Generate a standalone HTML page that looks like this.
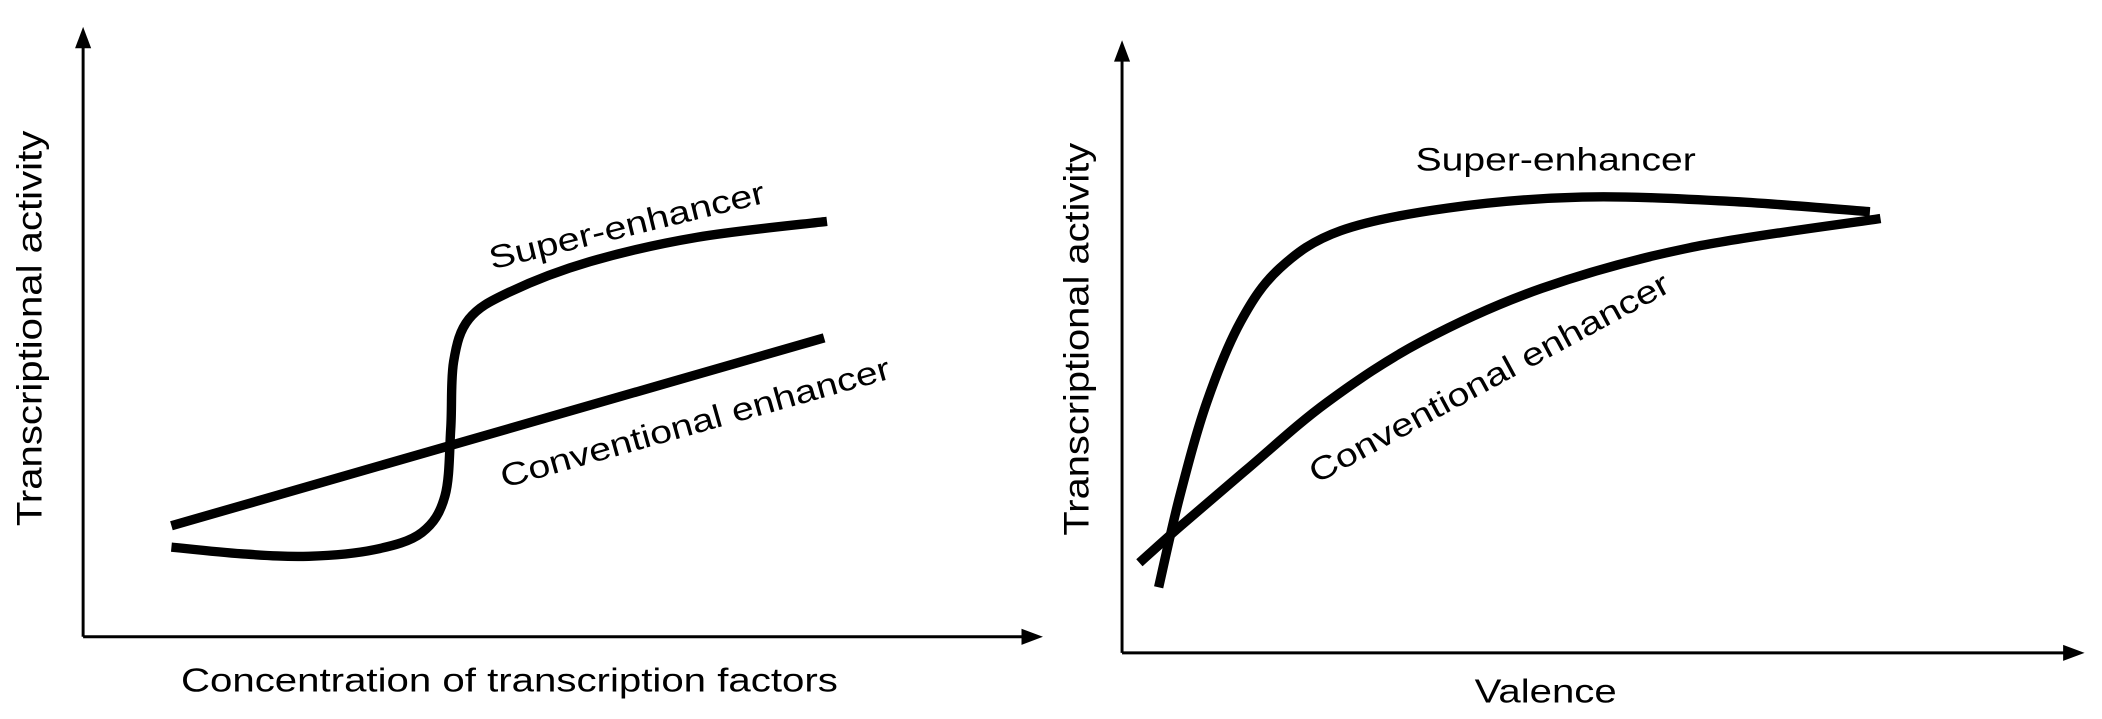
<!DOCTYPE html>
<html><head><meta charset="utf-8"><style>
html,body{margin:0;padding:0;background:#fff;}
svg{display:block;}
text{font-family:"Liberation Sans",sans-serif;fill:#000;}
</style></head><body>
<svg id="chart" width="2102" height="719" viewBox="0 0 1568 536.33" xmlns="http://www.w3.org/2000/svg">
<g id="left"></g>
<g id="right"></g>
</svg>
<script>
// Left panel data (domain 0..10)
const leftConvX = [0.92, 7.72];
const leftConvY = [1.82, 4.90];
const leftSuperX = [0.92,1.65,2.35,3.04,3.53,3.77,3.83,3.86,4.02,4.44,5.28,6.40,7.75];
const leftSuperY = [1.47,1.36,1.32,1.43,1.71,2.31,3.41,4.51,5.21,5.65,6.15,6.55,6.81];
// Right panel data (domain 0..10)
const rightSuperX = [0.38,0.60,0.88,1.23,1.64,2.27,3.38,4.78,6.31,7.77];
const rightSuperY = [1.07,2.56,4.09,5.40,6.28,6.89,7.26,7.44,7.37,7.20];
const rightConvX = [0.18,0.60,1.30,2.13,3.11,4.36,5.89,7.88];
const rightConvY = [1.47,2.06,3.00,4.09,5.08,5.95,6.61,7.09];

const NS='http://www.w3.org/2000/svg';
function mk(parent,tag,attrs,txt){const e=document.createElementNS(NS,tag);for(const k in attrs)e.setAttribute(k,attrs[k]);if(txt)e.textContent=txt;parent.appendChild(e);return e;}
function scales(x0,x1,y0,y1){return {x:v=>x0+(x1-x0)*v/10,y:v=>y0-(y0-y1)*v/10};}
function pathD(xs,ys,s){
  const p=xs.map((x,i)=>[s.x(x),s.y(ys[i])]);
  if(p.length===2)return `M${p[0][0]},${p[0][1]}L${p[1][0]},${p[1][1]}`;
  let d=`M${p[0][0]},${p[0][1]}`;
  for(let i=0;i<p.length-1;i++){
    const a=p[Math.max(0,i-1)],b=p[i],c=p[i+1],e=p[Math.min(p.length-1,i+2)];
    const c1=[b[0]+(c[0]-a[0])/6,b[1]+(c[1]-a[1])/6],c2=[c[0]-(e[0]-b[0])/6,c[1]-(e[1]-b[1])/6];
    d+=`C${c1[0]},${c1[1]} ${c2[0]},${c2[1]} ${c[0]},${c[1]}`;
  }
  return d;
}
function axes(g,ox,oy,top,right){
  let l=mk(g,'line',{x1:ox,y1:oy,x2:ox,y2:top+12,stroke:'#000','stroke-width':2.2});
  
  
  l=mk(g,'line',{x1:ox,y1:oy,x2:right-12,y2:oy,stroke:'#000','stroke-width':2.2});
  
  
  l=mk(g,'polygon',{points:`${ox},${top} ${ox-6},${top+16} ${ox+6},${top+16}`,fill:'#000'});
  
  
  l=mk(g,'polygon',{points:`${right},${oy} ${right-16},${oy-6} ${right-16},${oy+6}`,fill:'#000'});
  
  
}
function curve(g,xs,ys,s,name){
  const p=mk(g,'path',{d:pathD(xs,ys,s),fill:'none',stroke:'#000','stroke-width':7,'stroke-linecap':'butt','stroke-linejoin':'round'});
  
  
}
function label(g,txt,x,y,rot,len,size,name,anchor){
  const t=mk(g,'text',{x:x,y:y,'font-size':size,textLength:len,lengthAdjust:'spacingAndGlyphs','text-anchor':anchor||'start',transform:`rotate(${rot} ${x} ${y})`},txt);
  
  
}
// Left
const gl=document.getElementById('left');
const sl=scales(62,778,475,20);
axes(gl,62,475,20,778);
curve(gl,leftConvX,leftConvY,sl,'conventional-enhancer-line');
curve(gl,leftSuperX,leftSuperY,sl,'super-enhancer-line');
label(gl,'Super-enhancer',367,201,-13.7,211,24,'super-enhancer-label');
label(gl,'Conventional enhancer',376,364,-15.8,301,24,'conventional-enhancer-label');
label(gl,'Transcriptional activity',31,245,-90,295,26,'y-axis-title','middle');
label(gl,'Concentration of transcription factors',380,516,0,490,25,'x-axis-title','middle');
// Right
const gr=document.getElementById('right');
const sr=scales(837,1555,487,30);
axes(gr,837,487,30,1555);
curve(gr,rightConvX,rightConvY,sr,'conventional-enhancer-curve');
curve(gr,rightSuperX,rightSuperY,sr,'super-enhancer-curve');
label(gr,'Super-enhancer',1056,127,0,209,24,'super-enhancer-label');
label(gr,'Conventional enhancer',982,361,-28.5,302,24,'conventional-enhancer-label');
label(gr,'Transcriptional activity',812,253,-90,293,26,'y-axis-title','middle');
label(gr,'Valence',1153,524,0,106,25,'x-axis-title','middle');
</script>
</body></html>
